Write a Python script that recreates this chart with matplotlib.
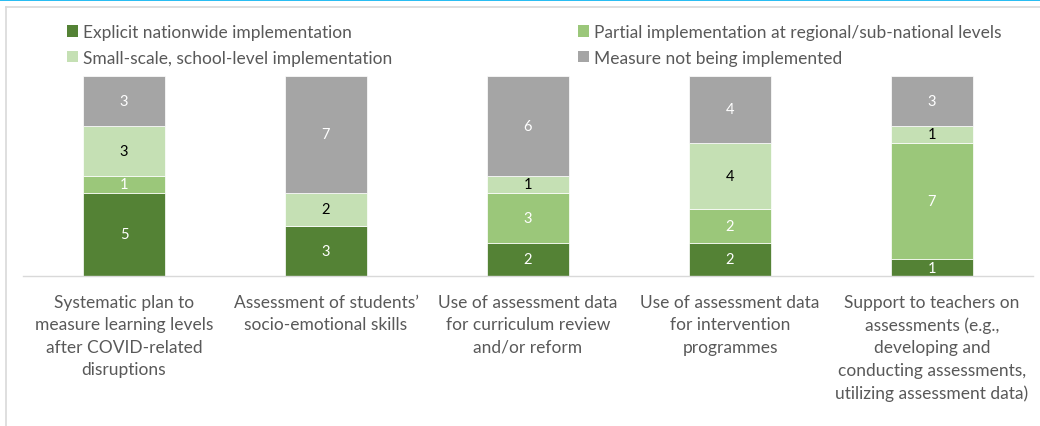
import matplotlib
matplotlib.use("Agg")
import matplotlib.pyplot as plt
from matplotlib.patches import Patch
from matplotlib.lines import Line2D
import numpy as np

categories = [
    "Systematic plan to\nmeasure learning levels\nafter COVID-related\ndisruptions",
    "Assessment of students’\nsocio-emotional skills",
    "Use of assessment data\nfor curriculum review\nand/or reform",
    "Use of assessment data\nfor intervention\nprogrammes",
    "Support to teachers on\nassessments (e.g.,\ndeveloping and\nconducting assessments,\nutilizing assessment data)",
]
series_names = [
    "Explicit nationwide implementation",
    "Partial implementation at regional/sub-national levels",
    "Small-scale, school-level implementation",
    "Measure not being implemented",
]
explicit = [5, 3, 2, 2, 1]
partial = [1, 0, 3, 2, 7]
small = [3, 2, 1, 4, 1]
not_impl = [3, 7, 6, 4, 3]

colors = ["#548235", "#9BC77A", "#C5E0B4", "#A5A5A5"]
label_colors = ["white", "white", "black", "white"]

FONT = "Lato"
TXT = "#595959"
FS = 12.5

fig = plt.figure(figsize=(10.4, 4.27), dpi=100)
W, H = 1040, 427
ax = fig.add_axes([23 / W, 1 - 277 / H, (1033 - 23) / W, 200 / H])

x = np.arange(len(categories))
bottom = np.zeros(len(categories))
handles = []
for vals, col, lc, name in zip([explicit, partial, small, not_impl], colors, label_colors, series_names):
    vals = np.array(vals, dtype=float)
    ax.bar(x, vals, bottom=bottom, width=0.405, color=col, edgecolor="white", linewidth=0.5, label=name)
    for xi, v, b in zip(x, vals, bottom):
        if v > 0:
            ax.text(xi, b + v / 2, f"{int(v)}", ha="center", va="center", color=lc,
                    fontsize=10.5, family=FONT)
    bottom += vals
    handles.append(Patch(facecolor=col, edgecolor="none", label=name))

ax.set_xlim(-0.5, len(categories) - 0.5)
ax.set_ylim(0, 12)
ax.set_yticks([])
for s in ["top", "right", "left"]:
    ax.spines[s].set_visible(False)
ax.spines["bottom"].set_color("#D9D9D9")
ax.spines["bottom"].set_linewidth(1.0)
ax.set_xticks(x)
ax.set_xticklabels(categories, fontsize=FS, family=FONT, color=TXT, linespacing=1.48, va="top")
ax.tick_params(axis="x", length=0, pad=13)

# legends
leg_kw = dict(frameon=False, handlelength=0.63, handleheight=0.63,
              handletextpad=0.3, labelspacing=0.55, borderpad=0, borderaxespad=0,
              prop={"family": FONT, "size": FS})
leg1 = fig.legend(handles=[handles[0], handles[2]], loc="upper left",
                  bbox_to_anchor=(67 / W, 1 - 25 / H), **leg_kw)
leg2 = fig.legend(handles=[handles[1], handles[3]], loc="upper left",
                  bbox_to_anchor=(578 / W, 1 - 25 / H), **leg_kw)
for lg in (leg1, leg2):
    for t in lg.get_texts():
        t.set_color(TXT)

# frame decorations
fig.add_artist(Line2D([0, 1], [1 - 0.8 / H, 1 - 0.8 / H], transform=fig.transFigure, color="#00B0F0", linewidth=1.2))
fig.add_artist(Line2D([5.5 / W, 1], [1 - 7.5 / H, 1 - 7.5 / H], transform=fig.transFigure, color="#D9D9D9", linewidth=1.2))
fig.add_artist(Line2D([5.5 / W, 5.5 / W], [0, 1 - 7.5 / H], transform=fig.transFigure, color="#D9D9D9", linewidth=1.2))

fig.savefig("out.png", dpi=100)
